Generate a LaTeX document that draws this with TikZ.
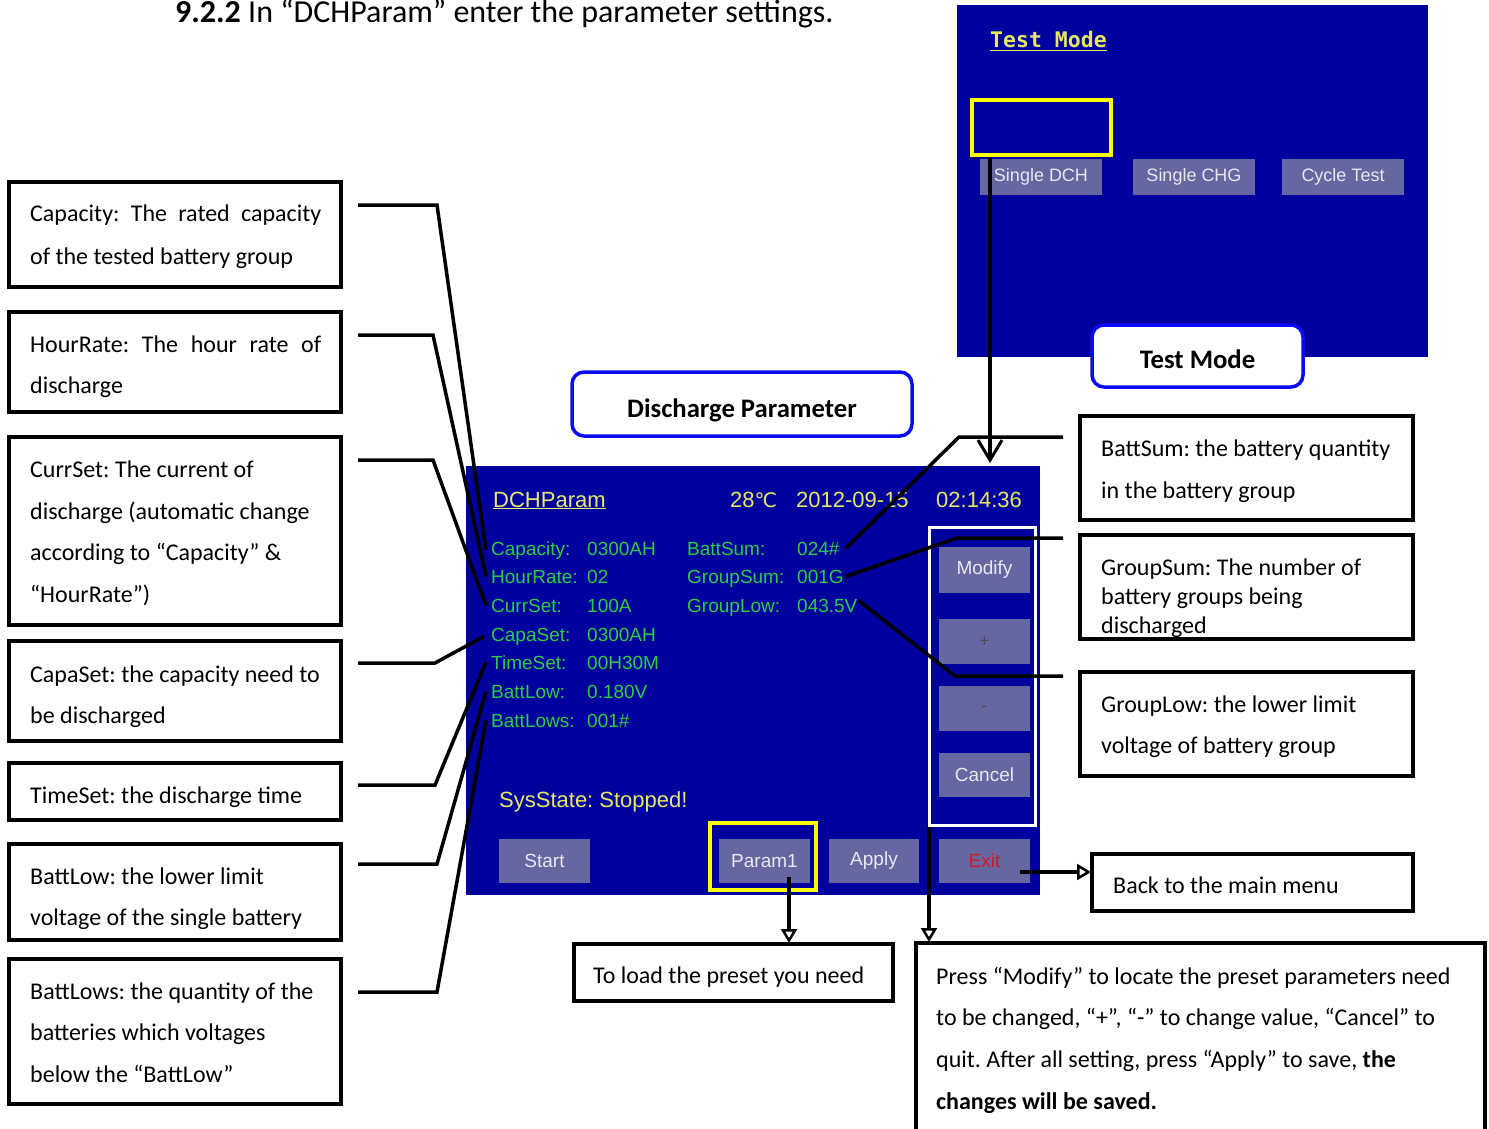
\documentclass[tikz,border=0pt]{standalone}
\usepackage{fontspec}
\setmainfont{Carlito}
\newfontfamily\scrfont{Liberation Sans}
\newfontfamily\tmfont{DejaVu Sans Mono}
\newfontfamily\dvsfont{DejaVu Sans}
\usetikzlibrary{arrows.meta,calc}
\definecolor{scrblue}{RGB}{0,0,158}
\definecolor{btncol}{RGB}{102,102,160}
\definecolor{calblue}{RGB}{10,10,250}
\definecolor{selyellow}{RGB}{255,255,0}
\definecolor{scryellow}{RGB}{232,232,96}
\definecolor{scrgreen}{RGB}{45,205,65}
\definecolor{btntext}{RGB}{232,232,240}
\definecolor{exitred}{RGB}{220,20,40}
\frenchspacing
\begin{document}
\begin{tikzpicture}[x=1pt,y=-1pt,
  screen/.style={fill=scrblue, draw=none, inner sep=0, outer sep=0},
  lbox/.style={draw=black, line width=4pt, fill=white, inner sep=0, minimum width=332pt},
  rbox/.style={draw=black, line width=4pt, fill=white, inner sep=0, minimum width=333pt, minimum height=104pt},
  lt/.style={font=\fontsize{24}{28}\selectfont, anchor=base west, inner sep=0},
  callout/.style={draw=calblue, line width=3.5pt, fill=white, rounded corners=12pt, inner sep=0, font=\bfseries\fontsize{26.7}{30}\selectfont, text depth=3pt},
  btn/.style={fill=btncol, draw=none, inner sep=0, text=btntext, font=\scrfont\fontsize{19}{22}\selectfont},
  tmbtn/.style={btn, minimum width=122pt, minimum height=36pt, font=\scrfont\fontsize{18}{21}\selectfont},
  sbtn/.style={btn, minimum width=91pt, minimum height=45pt},
  sg/.style={font=\scrfont\fontsize{19}{22}\selectfont, text=scrgreen, anchor=base west, inner sep=0},
  sy/.style={font=\scrfont\fontsize{22}{25}\selectfont, text=scryellow, anchor=base west, inner sep=0},
  selbox/.style={draw=selyellow, line width=4.5pt, inner sep=0},
  conn/.style={draw=black, line width=3.5pt, line join=miter},
  opentip/.style={-{Triangle[open,length=14pt,width=16pt,line width=2.5pt]}}
]
\useasboundingbox (0,0) rectangle (1489,1129);

% header
\node[anchor=base west, inner sep=0, font=\fontsize{32}{36}\selectfont] (hdr) at (175,23) {\textbf{9.2.2} In “DCHParam” enter the parameter settings.};

% ---------- Test Mode screen ----------
\node[screen, minimum width=471pt, minimum height=352pt] (tmscreen) at (1192.5,181) {};
\node[anchor=base west, inner sep=0, font=\tmfont\bfseries\fontsize{21.5}{24}\selectfont, text=scryellow] (tmtitle) at (990,48) {\underline{Test Mode}};
\node[tmbtn] (sdch) at (1041,177) {Single DCH};
\node[tmbtn] (schg) at (1194,177) {Single CHG};
\node[tmbtn] (cyc) at (1343,177) {Cycle Test};
\node[selbox, minimum width=139pt, minimum height=55pt] (tmsel) at (1041.5,127.5) {};
\node[callout, minimum width=211pt, minimum height=62pt, text height=27pt] (tmcall) at (1197.5,356) {Test Mode};

% ---------- DCHParam screen ----------
\node[screen, minimum width=574pt, minimum height=429pt] (dscreen) at (753,680.5) {};
\node[callout, minimum width=340pt, minimum height=64pt, text height=29pt] (dpcall) at (742,404) {Discharge Parameter};

\node[sy, text=scryellow!90!white] (dtitle) at (493,507) {\underline{DCHParam}};
\node[sy] (dtemp) at (730,507) {28{\dvsfont\fontsize{20}{24}\selectfont ℃}};
\node[sy] (ddate) at (796,507) {2012-09-15};
\node[sy] (dtime) at (936,507) {02:14:36};

\node[sg] (lcap) at (491,555) {Capacity:};
\node[sg] (lhr) at (491,583) {HourRate:};
\node[sg] (lcs) at (491,612) {CurrSet:};
\node[sg] (lcaps) at (491,641) {CapaSet:};
\node[sg] (lts) at (491,669) {TimeSet:};
\node[sg] (lbl) at (491,698) {BattLow:};
\node[sg] (lbls) at (491,727) {BattLows:};
\node[sg] (vcap) at (587,555) {0300AH};
\node[sg] (vhr) at (587,583) {02};
\node[sg] (vcs) at (587,612) {100A};
\node[sg] (vcaps) at (587,641) {0300AH};
\node[sg] (vts) at (587,669) {00H30M};
\node[sg] (vbl) at (587,698) {0.180V};
\node[sg] (vbls) at (587,727) {001\#};
\node[sg] (lbs) at (687,555) {BattSum:};
\node[sg] (lgs) at (687,583) {GroupSum:};
\node[sg] (lgl) at (687,612) {GroupLow:};
\node[sg] (vbs) at (797,555) {024\#};
\node[sg] (vgs) at (797,583) {001G};
\node[sg] (vgl) at (797,612) {043.5V};

\node[sy, font=\scrfont\fontsize{22}{25}\selectfont] (sys) at (499,807) {SysState: Stopped!};

\node[draw=white, line width=3pt, inner sep=0, minimum width=106pt, minimum height=298pt] (frame) at (982.5,676.5) {};
\node[sbtn, minimum height=46pt] (modify) at (984.5,570) {Modify};
\node[sbtn, text=black!70, font=\scrfont\fontsize{17}{19}\selectfont] (plus) at (984.5,641.5) {+};
\node[sbtn, text=black!70, font=\scrfont\fontsize{17}{19}\selectfont] (minus) at (984.5,708.5) {-};
\node[sbtn, minimum height=44pt] (cancel) at (984.5,775) {Cancel};

\node[sbtn, minimum height=44pt] (start) at (544.5,861) {Start};
\node[sbtn, minimum height=44pt] (param1) at (764.5,861) {Param1};
\node[sbtn, minimum height=44pt, minimum width=90pt] (apply) at (874,861) {Apply};
\node[sbtn, minimum height=44pt, text=exitred] (exit) at (984.5,861) {Exit};
\node[selbox, line width=4pt, minimum width=106pt, minimum height=67pt] (psel) at (763,856.5) {};

% ---------- left boxes ----------
\node[lbox, minimum height=105pt] (capbox) at (175,234.5) {};
\node[lt] at (30,222) {\makebox[291pt][s]{Capacity: The rated capacity}};
\node[lt] at (30,264) {of the tested battery group};

\node[lbox, minimum height=100pt] (hrbox) at (175,362) {};
\node[lt] at (30,352) {\makebox[291pt][s]{HourRate: The hour rate of}};
\node[lt] at (30,393) {discharge};

\node[lbox, minimum height=188pt] (csbox) at (175,531) {};
\node[lt] at (30,477) {CurrSet: The current of};
\node[lt] at (30,519) {discharge (automatic change};
\node[lt] at (30,560) {according to “Capacity” \&};
\node[lt] at (30,602) {“HourRate”)};

\node[lbox, minimum height=100pt] (capsbox) at (175,691) {};
\node[lt] at (30,682) {CapaSet: the capacity need to};
\node[lt] at (30,723) {be discharged};

\node[lbox, minimum height=57pt] (tsbox) at (175,791.5) {};
\node[lt] at (30,803) {TimeSet: the discharge time};

\node[lbox, minimum height=96pt] (blbox) at (175,892) {};
\node[lt] at (30,884) {BattLow: the lower limit};
\node[lt] at (30,925) {voltage of the single battery};

\node[lbox, minimum height=145pt] (blsbox) at (175,1031.5) {};
\node[lt] at (30,999) {BattLows: the quantity of the};
\node[lt] at (30,1040) {batteries which voltages};
\node[lt] at (30,1082) {below the “BattLow”};

% ---------- right boxes ----------
\node[rbox] (bsbox) at (1246.5,468) {};
\node[lt] at (1101,456) {BattSum: the battery quantity};
\node[lt] at (1101,498) {in the battery group};

\node[rbox] (gsbox) at (1246.5,587) {};
\node[lt] at (1101,575) {GroupSum: The number of};
\node[lt] at (1101,604) {battery groups being};
\node[lt] at (1101,633) {discharged};

\node[rbox] (glbox) at (1246.5,724) {};
\node[lt] at (1101,712) {GroupLow: the lower limit};
\node[lt] at (1101,753) {voltage of battery group};

\node[rbox, minimum width=321pt, minimum height=57pt] (backbox) at (1252.5,882.5) {};
\node[lt] at (1113,893) {Back to the main menu};

\node[rbox, minimum width=319pt, minimum height=57pt] (loadbox) at (733.5,972.5) {};
\node[lt] at (593,983) {To load the preset you need};

\node[rbox, minimum width=569pt, minimum height=195pt] (bigbox) at (1200.5,1040.5) {};
\node[lt] at (936,984) {Press “Modify” to locate the preset parameters need};
\node[lt] at (936,1025) {to be changed, “+”, “-” to change value, “Cancel” to};
\node[lt] at (936,1067) {quit. After all setting, press “Apply” to save, \textbf{the}};
\node[lt] at (936,1109) {\textbf{changes will be saved.}};

% ---------- connectors ----------
\draw[conn] ($(capbox.east)+(15,-29.5)$) -- (437,205) -- ([xshift=-5pt]lcap.west);
\draw[conn] ($(hrbox.east)+(15,-27)$) -- (433,335) -- ([xshift=-5pt]lhr.west);
\draw[conn] ($(csbox.east)+(15,-71)$) -- (433,460) -- ([xshift=-5pt]lcs.west);
\draw[conn] ($(capsbox.east)+(15,-28)$) -- (435,663) -- ([xshift=-7pt]lcaps.west);
\draw[conn] ($(tsbox.east)+(15,-6.5)$) -- (435,785) -- ([xshift=-5pt]lts.west);
\draw[conn] ($(blbox.east)+(15,-28)$) -- (437,864) -- ([xshift=-5pt]lbl.west);
\draw[conn] ($(blsbox.east)+(15,-39.5)$) -- (437,992) -- ([xshift=-5pt]lbls.west);

\draw[conn] ([xshift=6pt]vbs.east) -- (959,437) -- ($(bsbox.west)+(-15,-31)$);
\draw[conn] ([xshift=2pt]vgs.east) -- (957,538) -- ($(gsbox.west)+(-15,-49)$);
\draw[conn] ([xshift=1pt,yshift=5pt]vgl.east) -- (955,676) -- ($(glbox.west)+(-15,-48)$);

\draw[conn, -{Straight Barb[length=20pt,width=24pt,line width=3pt]}] ($(tmsel.south)+(-51.5,0)$) -- ($(dscreen.north)+(237,-3)$);
\draw[conn, opentip] ($(param1.south)+(24.5,-6)$) -- ($(loadbox.north)+(55.5,1)$);
\draw[conn, opentip] ($(frame.south west)+(1,0)$) -- ($(bigbox.north west)+(15,1)$);
\draw[conn, opentip] ($(exit.east)+(-10,11)$) -- ($(backbox.west)+(1,-10.5)$);
\end{tikzpicture}
\end{document}
